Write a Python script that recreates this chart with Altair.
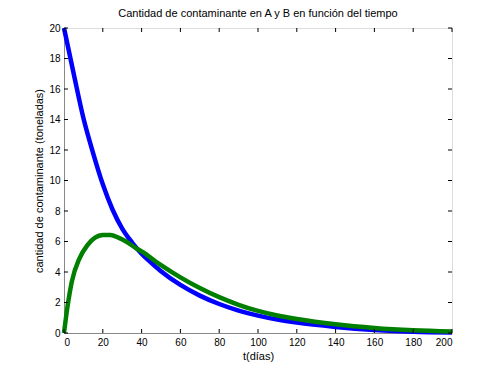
import altair as alt
import pandas as pd

# Values
t_a = [0, 5, 10, 15, 20, 25, 30, 35, 40, 45, 50, 60, 70, 80, 90, 100, 110, 120, 140, 160, 180, 200]
a_vals = [20, 17.0, 14.1, 11.8, 9.75, 8.1, 6.85, 5.95, 5.2, 4.6, 4.05, 3.15, 2.45, 1.9, 1.47, 1.14, 0.88, 0.68, 0.4, 0.2, 0.08, 0.03]
t_b = [0, 2, 4, 8, 12, 16, 20, 24, 28, 32, 37, 40, 50, 60, 70, 80, 90, 100, 110, 120, 140, 160, 180, 200]
b_vals = [0, 1.9, 3.35, 4.9, 5.75, 6.25, 6.42, 6.43, 6.25, 6.0, 5.57, 5.35, 4.45, 3.65, 2.95, 2.35, 1.85, 1.45, 1.15, 0.92, 0.57, 0.33, 0.18, 0.1]
x_ticks = [0, 20, 40, 60, 80, 100, 120, 140, 160, 180, 200]
y_ticks = [0, 2, 4, 6, 8, 10, 12, 14, 16, 18, 20]

W, H = 388, 305
FONT = "Liberation Sans"

df = pd.DataFrame(
    [{"t": t, "v": v, "s": "A"} for t, v in zip(t_a, a_vals)]
    + [{"t": t, "v": v, "s": "B"} for t, v in zip(t_b, b_vals)]
)
xt = pd.DataFrame({"x": x_ticks})
yt = pd.DataFrame({"y": y_ticks})

xscale = alt.Scale(domain=[0, 200], nice=False, zero=False)
yscale = alt.Scale(domain=[0, 20], nice=False, zero=False)

x_axis = alt.Axis(values=x_ticks, title="t(días)", grid=False, ticks=False,
                  labelPadding=4, titlePadding=3, format="d", labelOverlap=False,
                  titleFontWeight="normal")
y_axis = alt.Axis(values=y_ticks, title="cantidad de contaminante (toneladas)", grid=False,
                  ticks=False, labelPadding=4, titlePadding=4, format="d", labelOverlap=False,
                  titleFontWeight="normal")

lines = alt.Chart(df).mark_line(strokeWidth=4.5, interpolate="monotone", clip=False).encode(
    x=alt.X("t:Q", scale=xscale, axis=x_axis),
    y=alt.Y("v:Q", scale=yscale, axis=y_axis),
    color=alt.Color("s:N", scale=alt.Scale(domain=["A", "B"], range=["#0000FF", "#007F00"]), legend=None),
    order=alt.Order("s:N"),
)

tick_len = 4
bottom = alt.Chart(xt).mark_rule(color="black", strokeWidth=1).encode(
    x=alt.X("x:Q", scale=xscale, axis=x_axis), y=alt.value(H), y2=alt.value(H - tick_len))
top = alt.Chart(xt).mark_rule(color="black", strokeWidth=1).encode(
    x=alt.X("x:Q", scale=xscale, axis=x_axis), y=alt.value(0), y2=alt.value(tick_len))
left = alt.Chart(yt).mark_rule(color="black", strokeWidth=1).encode(
    y=alt.Y("y:Q", scale=yscale, axis=y_axis), x=alt.value(0), x2=alt.value(tick_len))
right = alt.Chart(yt).mark_rule(color="black", strokeWidth=1).encode(
    y=alt.Y("y:Q", scale=yscale, axis=y_axis), x=alt.value(W), x2=alt.value(W - tick_len))

chart = alt.layer(lines, bottom, top, left, right).properties(
    width=W, height=H,
    title=alt.TitleParams("Cantidad de contaminante en A y B en función del tiempo",
                          fontSize=11, fontWeight="normal", font=FONT, color="black", offset=0),
    padding={"left": 25, "top": 0, "right": 5, "bottom": 5},
).configure_view(stroke="black", strokeWidth=1).configure_axis(
    domainColor="black", labelColor="black", titleColor="black",
    labelFont=FONT, titleFont=FONT, labelFontSize=12, titleFontSize=11.5, titleFontWeight="normal",
).configure(background="white")

chart.save("out.html", embed_options={"renderer": "svg", "actions": False})
